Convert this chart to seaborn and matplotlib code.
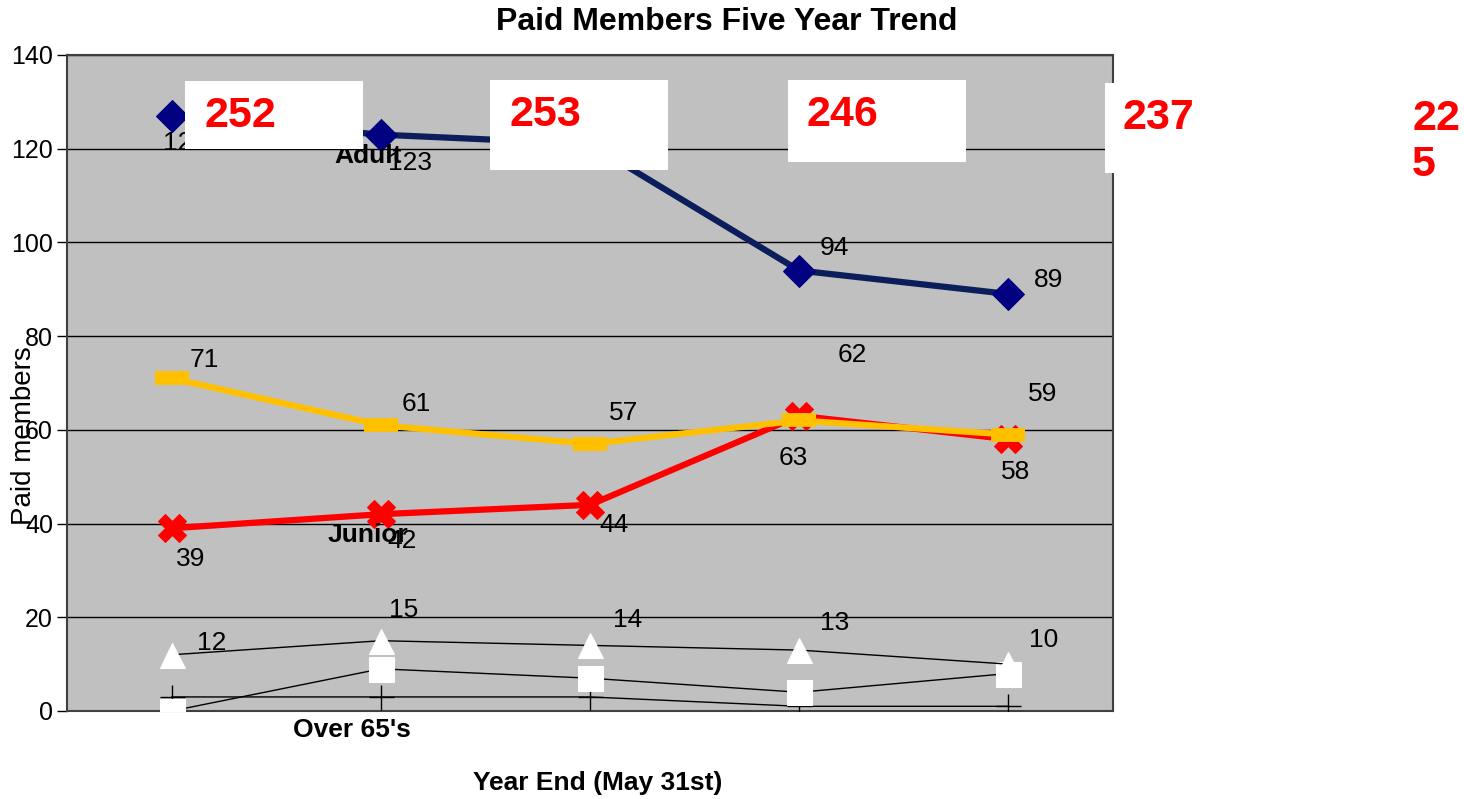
import matplotlib
matplotlib.use("Agg")
import matplotlib.pyplot as plt
from matplotlib.patches import Rectangle
import seaborn as sns
import numpy as np

# data
years = [0, 1, 2, 3, 4]
adult = [127, 123, 121, 94, 89]
family = [71, 61, 57, 62, 59]
junior = [39, 42, 44, 63, 58]
over65 = [12, 15, 14, 13, 10]
other_a = [0, 9, 7, 4, 8]
other_b = [3, 3, 3, 1, 1]
totals = ["252", "253", "246", "237", "22\n5"]

W, H = 1464, 799

sns.set_theme(style="white")
plt.rcParams["font.family"] = ["Liberation Sans", "DejaVu Sans"]
plt.rcParams["text.color"] = "black"
plt.rcParams["axes.labelcolor"] = "black"
plt.rcParams["ytick.color"] = "black"

fig = plt.figure(figsize=(W / 100, H / 100), dpi=100)
ax = fig.add_axes([67 / W, 1 - 711 / H, (1113 - 67) / W, (711 - 55) / H])
ax.set_facecolor("#C0C0C0")

# thin black series first
sns.lineplot(x=years, y=other_b, ax=ax, color="black", lw=1, marker="+",
             markersize=18, markeredgewidth=1, markeredgecolor="black", zorder=3)
sns.lineplot(x=years, y=other_a, ax=ax, color="black", lw=1, marker="s",
             markersize=18, markerfacecolor="white", markeredgecolor="white", zorder=4)
sns.lineplot(x=years, y=over65, ax=ax, color="black", lw=1, marker="^",
             markersize=18, markerfacecolor="white", markeredgecolor="white", zorder=4)
sns.lineplot(x=years, y=adult, ax=ax, color="#0B1E5B", lw=4.5, marker="D",
             markersize=16, markerfacecolor="#000080", markeredgecolor="#000080", zorder=5)
sns.lineplot(x=years, y=junior, ax=ax, color="#FF0000", lw=4.5, marker="X",
             markersize=20, markerfacecolor="#FF0000", markeredgecolor="#FF0000", zorder=5)
sns.lineplot(x=years, y=family, ax=ax, color="#FFC000", lw=4.5, marker="_",
             markersize=24, markeredgewidth=10, markeredgecolor="#FFC000", zorder=6)

ax.set_xlim(-0.5, 4.5)
ax.set_ylim(0, 140)
ax.set_yticks(np.arange(0, 141, 20))
ax.set_xticks([])
ax.yaxis.grid(True, color="black", lw=1)
ax.set_axisbelow(True)
ax.tick_params(axis="y", direction="out", length=7, width=1, color="black",
               labelsize=18, pad=3, left=True)
for s in ax.spines.values():
    s.set_color("#404040")
    s.set_linewidth(1.5)

# data labels (offsets in pixels)
lab_style = dict(textcoords="offset pixels", fontsize=19, color="black",
                 ha="center", va="center")
adult_off = [(13, -27), (29, -28), (30, 28), (35, 23), (40, 14)]
family_off = [(33, 18), (35, 21), (34, 31), (53, 65), (34, 41)]
junior_off = [(19, -31), (21, -27), (24, -20), (-6, -42), (7, -33)]
over65_off = [(40, 12), (23, 31), (38, 25), (35, 27), (35, 24)]
for series, offs in [(adult, adult_off), (family, family_off),
                     (junior, junior_off), (over65, over65_off)]:
    for x, v, o in zip(years, series, offs):
        ax.annotate(str(v), (x, v), xytext=o, zorder=7, **lab_style)

# series names sitting on the chart
ax.annotate("Adult", (1, adult[1]), xytext=(-13, -21), textcoords="offset pixels",
            fontsize=19, fontweight="bold", ha="center", va="center", zorder=7)
ax.annotate("Junior", (1, junior[1]), xytext=(-13, -21), textcoords="offset pixels",
            fontsize=19, fontweight="bold", ha="center", va="center", zorder=7)
ax.annotate("Over 65's", (1, 0), xytext=(-29, -19), textcoords="offset pixels",
            fontsize=19, fontweight="bold", ha="center", va="center",
            annotation_clip=False, zorder=7)

ax.set_xlabel("Year End (May 31st)", fontsize=19, fontweight="bold")
ax.xaxis.set_label_coords(0.5076, -0.091)
ax.set_ylabel("Paid members", fontsize=20)
ax.yaxis.set_label_coords(-0.029, 0.42)
fig.text(727 / W, 1 - 22 / H, "Paid Members Five Year Trend", fontsize=23,
         fontweight="bold", ha="center", va="center")

# white total boxes with red numbers
boxes = [(185, 81, 178, 68), (490, 80, 178, 90), (788, 80, 178, 82),
         (1105, 83, 178, 90), None]
text_pos = [(205, 116), (509, 115), (806, 115), (1123, 118), (1412, 142)]
for b, t, lbl in zip(boxes, text_pos, totals):
    if b is not None:
        x0, y0, w, h = b
        fig.add_artist(Rectangle((x0 / W, 1 - (y0 + h) / H), w / W, h / H,
                                 transform=fig.transFigure, facecolor="white",
                                 edgecolor="none", zorder=10))
    fig.text(t[0] / W, 1 - t[1] / H, lbl, fontsize=31, fontweight="bold",
             color="#FF0000", ha="left", va="center", zorder=11, linespacing=1.2)

fig.savefig("out.png", dpi=100)
